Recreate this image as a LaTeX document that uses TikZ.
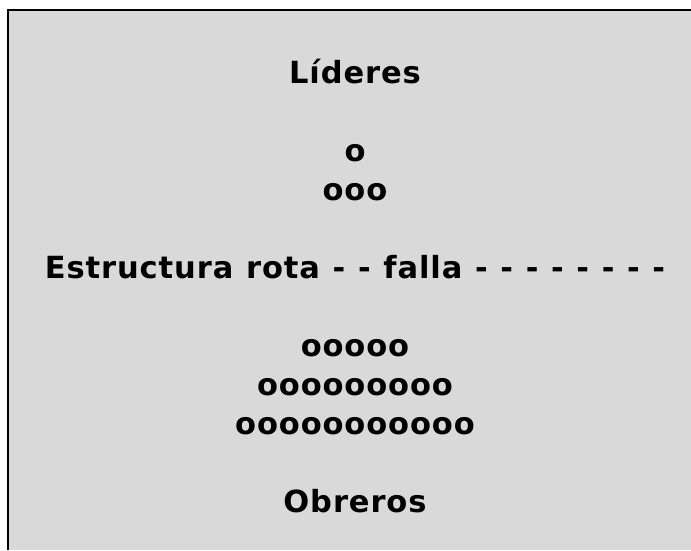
\documentclass[tikz,border=0pt]{standalone}
\usepackage{fontspec}
\setmainfont{DejaVu Sans}
\newfontfamily\boxfont[LetterSpace=3, WordSpace=1.1]{DejaVu Sans}
\usepackage{tikz}
\usetikzlibrary{positioning}
\definecolor{boxgrey}{RGB}{217,217,217}

\begin{document}
\begin{tikzpicture}[x=1pt, y=1pt, line cap=butt, line join=miter]
  \def\W{691}      % page width
  \def\H{550}      % page height
  \def\cx{355}     % centre of the text column
  \def\ybase{466.7} % baseline of the first row
  \def\pitch{39}   % line pitch

  \tikzset{rowtext/.style={anchor=base, inner sep=0pt,
    font=\boxfont\bfseries\fontsize{30.5}{39}\selectfont}}

  \useasboundingbox (0,0) rectangle (\W,\H);

  % Grey box, open to the right and bottom
  \fill[boxgrey] (8,0) rectangle (\W,540);
  \draw[line width=2.5] (8,0) -- (8,540) -- (\W,540);

  % Top rows
  \node[rowtext] (lideres) at (\cx, \ybase) {Líderes};
  \node[rowtext] (fila1) at (\cx, {\ybase-2*\pitch}) {o};
  \node[rowtext] (fila2) at (\cx, {\ybase-3*\pitch}) {ooo};

  % Break line
  \node[rowtext] (rotura) at (\cx, {\ybase-5*\pitch})
    {Estructura rota - - falla - - - - - - - -};

  % Bottom rows
  \node[rowtext] (fila3) at (\cx, {\ybase-7*\pitch}) {ooooo};
  \node[rowtext] (fila4) at (\cx, {\ybase-8*\pitch}) {ooooooooo};
  \node[rowtext] (fila5) at (\cx, {\ybase-9*\pitch}) {ooooooooooo};
  \node[rowtext] (obreros) at (\cx, {\ybase-11*\pitch}) {Obreros};

\end{tikzpicture}
\end{document}
